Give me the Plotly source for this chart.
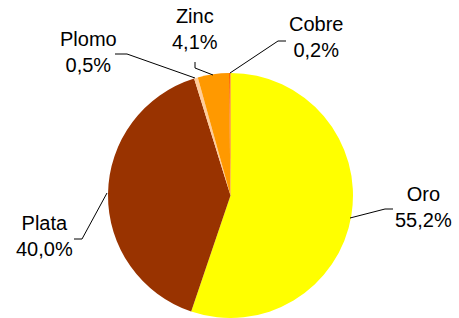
import plotly.graph_objects as go

W, H = 459, 318

labels = ["Oro", "Plata", "Plomo", "Zinc", "Cobre"]
values = [55.2, 40.0, 0.5, 4.1, 0.2]
colors = ["#FFFF00", "#993300", "#FFCC99", "#FF9900", "#FF6600"]
value_text = ["55,2%", "40,0%", "0,5%", "4,1%", "0,2%"]

# label placement (pixel coords) and leader lines (pixel coords)
label_pos = [(423, 207), (44, 236), (88, 52), (195, 29), (316, 37)]
leaders = [
    [(350, 218), (385, 209), (393, 209)],
    [(107, 193), (82, 239), (74, 239)],
    [(115, 54), (127, 54), (195, 78)],
    [(195, 62), (195, 68), (213, 75)],
    [(230, 73), (278, 41), (286, 41)],
]

def px(x):
    return x / W

def py(y):
    return 1 - y / H

fig = go.Figure()
fig.add_trace(go.Pie(
    labels=labels,
    values=values,
    marker=dict(colors=colors, line=dict(width=0)),
    sort=False,
    direction="clockwise",
    rotation=0,
    textinfo="none",
    hoverinfo="label+percent",
    showlegend=False,
    domain=dict(x=[107.5 / W, 353.5 / W], y=[0 / H, 245 / H]),
))

annotations = []
for lab, vt, (x, y) in zip(labels, value_text, label_pos):
    annotations.append(dict(
        x=px(x), y=py(y), xref="paper", yref="paper",
        text=f"{lab}<br>{vt}", showarrow=False,
        xanchor="center", yanchor="middle", align="center",
        font=dict(family="Liberation Sans, Arial", size=20, color="black"),
    ))

shapes = []
for pts in leaders:
    path = "M " + " L ".join(f"{px(x)},{py(y)}" for x, y in pts)
    shapes.append(dict(type="path", path=path, xref="paper", yref="paper",
                       line=dict(color="black", width=1)))

fig.update_layout(
    width=W, height=H,
    margin=dict(l=0, r=0, t=0, b=0),
    paper_bgcolor="white", plot_bgcolor="white",
    annotations=annotations, shapes=shapes,
)

fig.write_html("out.html",
               config={"displayModeBar": False},
               post_script="document.body.style.margin='0';document.body.style.overflow='hidden';")
